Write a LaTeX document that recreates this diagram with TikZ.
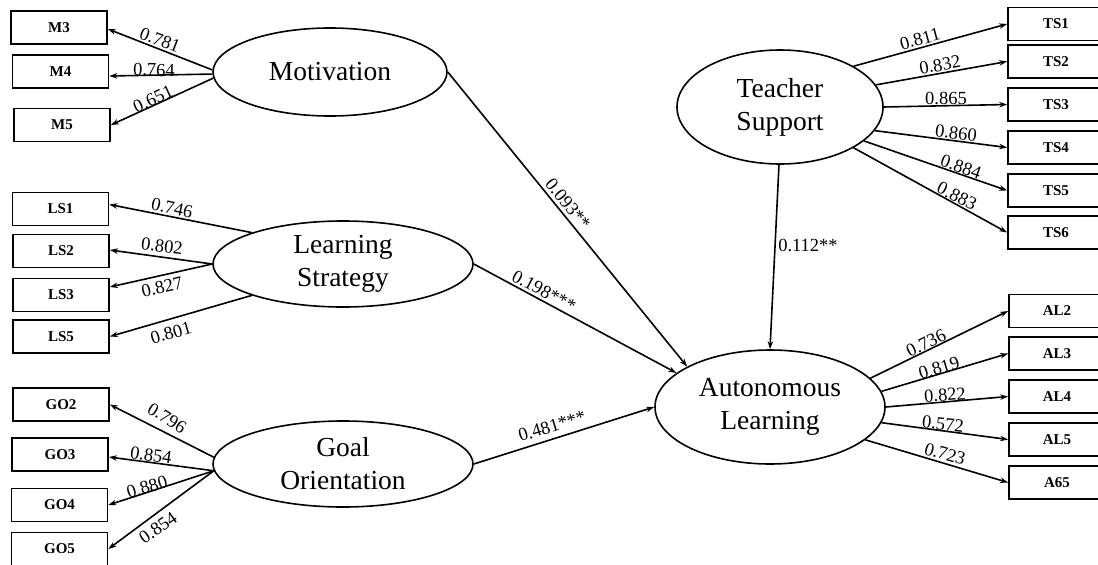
\documentclass[tikz,border=0pt]{standalone}
\usepackage{fontspec}
\setmainfont{Liberation Serif}
\usetikzlibrary{shapes.geometric,arrows.meta}
\begin{document}
\begin{tikzpicture}[x=1pt,y=-1pt,
  box/.style={draw, line width=1.7pt, minimum width=96pt, minimum height=33pt, inner sep=0pt, font=\fontsize{15}{17}\selectfont\bfseries},
  lat/.style={draw, ellipse, line width=1.6pt, inner sep=0pt, align=center, font=\fontsize{27.5}{33}\selectfont},
  arr/.style={line width=1.6pt, -{Stealth[length=8pt,width=5.5pt]}},
  lbl/.style={inner sep=0pt, font=\fontsize{18.5}{20}\selectfont}]
\useasboundingbox (0,0) rectangle (1098,565);
\clip (0,0) rectangle (1098,565);

% latent variables
\node[lat, minimum width=234pt, minimum height=88pt] (mot) at (330,72) {Motivation};
\node[lat, minimum width=260pt, minimum height=86pt] (ls) at (343,264) {Learning\\Strategy};
\node[lat, minimum width=260pt, minimum height=86pt] (go) at (343,464) {Goal\\Orientation};
\node[lat, minimum width=206pt, minimum height=114pt] (ts) at (780,107) {Teacher\\Support};
\node[lat, minimum width=230pt, minimum height=114pt] (al) at (770,407) {Autonomous\\Learning};

% indicators left
\node[box] (m3) at (59,27.5) {M3};
\node[box] (m4) at (60.5,71.5) {M4};
\node[box] (m5) at (62,125) {M5};
\node[box] (ls1) at (60.5,209) {LS1};
\node[box] (ls2) at (61,251) {LS2};
\node[box] (ls3) at (61,295) {LS3};
\node[box] (ls5) at (61,336.5) {LS5};
\node[box] (go2) at (61,404.5) {GO2};
\node[box] (go3) at (60,454.5) {GO3};
\node[box] (go4) at (59.5,505) {GO4};
\node[box] (go5) at (59.5,549) {GO5};

% indicators right
\node[box] (ts1) at (1056,24) {TS1};
\node[box] (ts2) at (1056,61.5) {TS2};
\node[box] (ts3) at (1056,104.5) {TS3};
\node[box] (ts4) at (1056,147.5) {TS4};
\node[box] (ts5) at (1056,190.5) {TS5};
\node[box] (ts6) at (1056,232.5) {TS6};
\node[box] (al2) at (1057,311) {AL2};
\node[box] (al3) at (1057,353.5) {AL3};
\node[box] (al4) at (1057,396.5) {AL4};
\node[box] (al5) at (1057,439.5) {AL5};
\node[box] (a65) at (1057,482.5) {A65};

% loadings
\draw[arr] (mot.179) -- ([yshift=-1.5pt]m3.east);
\draw[arr] (mot.181.5) -- ([yshift=-4.5pt]m4.east);
\draw[arr] (mot.183) -- (m5.east);
\draw[arr] (ls.161.6) -- ([yshift=4.5pt]ls1.east);
\draw[arr] (ls.180) -- ([yshift=1pt]ls2.east);
\draw[arr] (ls.180) -- ([yshift=8pt]ls3.east);
\draw[arr] (ls.199.4) -- (ls5.east);
\draw[arr] (go.177.3) -- (go2.east);
\draw[arr] (go.183.7) -- ([yshift=-2.5pt]go3.east);
\draw[arr] (go.183.7) -- (go4.east);
\draw[arr] (go.183.7) -- (go5.east);
\draw[arr] (ts.29.3) -- (ts1.west);
\draw[arr] (ts.13) -- (ts2.west);
\draw[arr] (ts.0) -- (ts3.west);
\draw[arr] (ts.-14.5) -- (ts4.west);
\draw[arr] (ts.-22.3) -- (ts5.west);
\draw[arr] (ts.-29.9) -- (ts6.west);
\draw[arr] (al.16.2) -- (al2.west);
\draw[arr] (al.8.1) -- (al3.west);
\draw[arr] (al.0) -- (al4.west);
\draw[arr] (al.-8.6) -- (al5.west);
\draw[arr] (al.-19) -- (a65.west);

% structural paths
\draw[arr] (mot.0) -- (al.154);
\draw[arr] (ls.0) -- (al.160);
\draw[arr] (go.0) -- (al.180.5);
\draw[arr] (ts.269.5) -- (al.90);

% labels
\node[lbl, rotate=-21] (t1) at (160,40) {0.781};
\node[lbl, rotate=-1] (t2) at (154,70) {0.764};
\node[lbl, rotate=25] (t3) at (153,99) {0.651};
\node[lbl, rotate=-12] (t4) at (172,208) {0.746};
\node[lbl, rotate=-7] (t5) at (162,246) {0.802};
\node[lbl, rotate=13] (t6) at (162,287) {0.827};
\node[lbl, rotate=16] (t7) at (171,333) {0.801};
\node[lbl, rotate=-32] (t8) at (167,418) {0.796};
\node[lbl, rotate=-8] (t9) at (151,455) {0.854};
\node[lbl, rotate=17] (t10) at (147,487) {0.880};
\node[lbl, rotate=35] (t11) at (158,528) {0.854};
\node[lbl, rotate=15] (t12) at (920,39) {0.811};
\node[lbl, rotate=10] (t13) at (940,65) {0.832};
\node[lbl] (t14) at (946,98) {0.865};
\node[lbl, rotate=-7] (t15) at (956,133) {0.860};
\node[lbl, rotate=-19] (t16) at (961,167) {0.884};
\node[lbl, rotate=-27] (t17) at (957,196) {0.883};
\node[lbl, rotate=26] (t18) at (926,343) {0.736};
\node[lbl, rotate=17] (t19) at (939,368) {0.819};
\node[lbl, rotate=4] (t20) at (945,395) {0.822};
\node[lbl, rotate=-6] (t21) at (943,424) {0.572};
\node[lbl, rotate=-16] (t22) at (945,454) {0.723};
\node[lbl, rotate=-51] (p1) at (568,204) {0.093**};
\node[lbl, rotate=-28] (p2) at (544,291) {0.198***};
\node[lbl, rotate=17] (p3) at (552,426) {0.481***};
\node[lbl] (p4) at (808,245) {0.112**};
\end{tikzpicture}
\end{document}
